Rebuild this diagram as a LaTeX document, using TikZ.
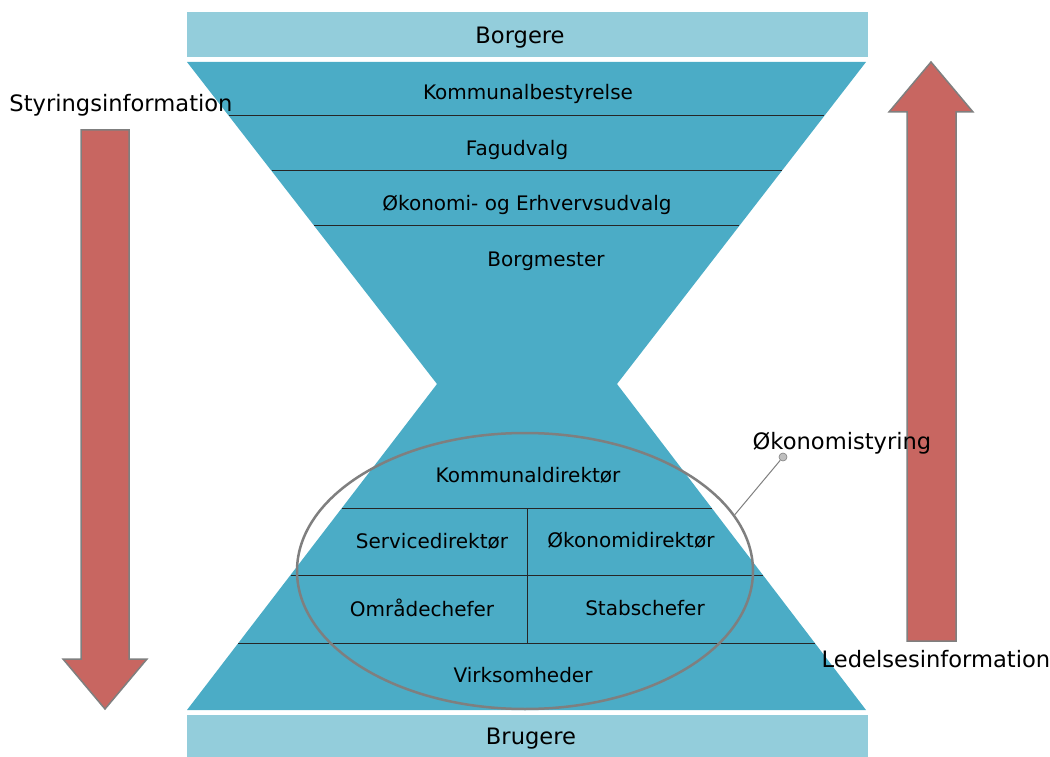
\documentclass[tikz,border=0pt]{standalone}
\usepackage{fontspec}
\setmainfont{DejaVu Sans}
\usetikzlibrary{calc,shapes.geometric}
\definecolor{hourteal}{HTML}{4BACC6}
\definecolor{lightteal}{HTML}{93CDDB}
\definecolor{arrowred}{HTML}{C86661}
\definecolor{rimgray}{HTML}{7F7F7F}
\begin{document}
\begin{tikzpicture}[x=1pt,y=-1pt,
  lbl/.style={font=\fontsize{20}{23}\selectfont, inner sep=0pt, anchor=center, yshift=-2pt},
  biglbl/.style={font=\fontsize{22.6}{26}\selectfont, inner sep=0pt, anchor=center, yshift=-2pt},
  divider/.style={draw=black!85, line width=1pt},
  bigarrow/.style={fill=arrowred, draw=rimgray, line width=1.5pt, line join=miter}]
\useasboundingbox (0,0) rectangle (1050,757);

% citizen / user bars
\fill[lightteal] (187,12) rectangle (868,57);
\fill[lightteal] (187,715) rectangle (868,757);

% hourglass outline points
\coordinate (TL) at (187,62);
\coordinate (TR) at (866,62);
\coordinate (WL) at (437,384);
\coordinate (WR) at (617,384);
\coordinate (BL) at (187,710);
\coordinate (BR) at (866,710);
\fill[hourteal] (TL) -- (TR) -- (WR) -- (BR) -- (BL) -- (WL) -- cycle;

% layer dividers, upper half
\foreach \t in {0.1677,0.3385,0.5093}
  \draw[divider] ($(TL)!\t!(WL)$) -- ($(TR)!\t!(WR)$);
% layer dividers, lower half
\foreach \t in {0.3804,0.5859,0.7945}
  \draw[divider] ($(WL)!\t!(BL)$) -- ($(WR)!\t!(BR)$);
\draw[divider] (527,508) -- (527,643);

% information flows
\draw[bigarrow] (81,130) -- (129,130) -- (129,659) -- (147,659) -- (105,709) -- (63,659) -- (81,659) -- cycle;
\draw[bigarrow] (907,641) -- (956,641) -- (956,112) -- (973,112) -- (931,62) -- (889,112) -- (907,112) -- cycle;

% labels
\node[biglbl] (borgere) at (520,36) {Borgere};
\node[lbl] (kb) at (528,92) {Kommunalbestyrelse};
\node[lbl] (fag) at (517,148) {Fagudvalg};
\node[lbl] (oeu) at (527,203) {Økonomi- og Erhvervsudvalg};
\node[lbl] (bm) at (546,259) {Borgmester};
\node[lbl] (kd) at (528,473) {Kommunaldirektør};
\node[lbl] (sd) at (432,539) {Servicedirektør};
\node[lbl] (od) at (631,538) {Økonomidirektør};
\node[lbl] (oc) at (422,606) {Områdechefer};
\node[lbl] (sc) at (645,606) {Stabschefer};
\node[lbl] (vh) at (523,673) {Virksomheder};
\node[biglbl] (brugere) at (531,737) {Brugere};

% financial management ring with callout
\node[draw=rimgray, line width=2.5pt, ellipse, minimum width=456pt, minimum height=276pt, inner sep=0pt] (ring) at (525,571) {};
\node[circle, fill=black!25, draw=rimgray, line width=0.6pt, minimum size=8pt, inner sep=0pt] (dot) at (783,457) {};
\draw[rimgray, line width=1pt] (ring.15) -- (dot);
\node[biglbl] (oks) at (842,441) {Økonomistyring};

\node[biglbl] (styr) at (121,103) {Styringsinformation};
\node[biglbl] (led) at (936,657) {Ledelsesinformation};
\end{tikzpicture}
\end{document}
